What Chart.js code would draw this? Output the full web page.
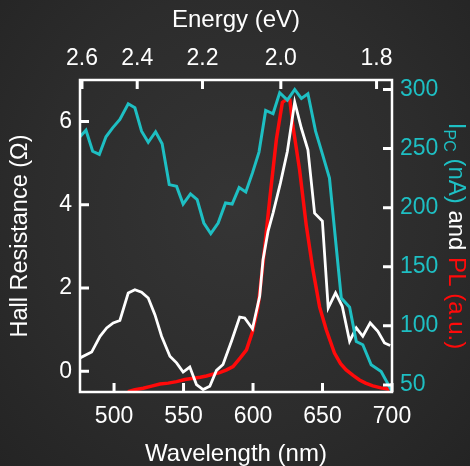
<!DOCTYPE html>
<html>
<head>
<meta charset="utf-8">
<script src="https://cdn.jsdelivr.net/npm/chart.js@4.4.1/dist/chart.umd.min.js"></script>
<style>
  html, body { margin: 0; padding: 0; }
  body {
    width: 470px; height: 466px; overflow: hidden;
    background: radial-gradient(ellipse at 50% 45%, #353535 0%, #2c2c2c 60%, #242424 100%);
  }
  #wrap { position: relative; width: 470px; height: 466px; }
</style>
</head>
<body>
<div id="wrap"><canvas id="chart"></canvas></div>
<script>
// Fotocorriente (cian, eje derecho)
const pcWavelength = [475.5, 479.8, 484.6, 489.4, 494.2, 499, 504.2, 510.2, 515, 519.8, 524.6, 529.9, 534.6, 539.7, 545, 549.7, 555, 559.8, 564.6, 569.6, 574.9, 580.2, 585, 590, 594.8, 599.6, 604.3, 609.1, 614.4, 619.2, 624.7, 630, 634.8, 639.5, 645, 649.9, 655, 663.5, 669.5, 674.3, 679, 685, 692.2, 700];
const pcCurrent = [260, 265.5, 247.7, 245, 260, 267.5, 274.6, 287.9, 284.5, 264.7, 255.3, 264.2, 254, 219.5, 218, 203, 211.6, 206.8, 187, 178, 187, 204, 203, 217, 213.3, 229.4, 247, 282.2, 279.4, 297.2, 291, 300, 292.4, 296.4, 264.7, 245.5, 225, 123.5, 115.8, 86.7, 84, 67, 61.3, 44.5];

// Resistencia Hall (blanco, eje izquierdo)
const hallWavelength = [475.5, 483.9, 489.9, 494.7, 499.4, 504.2, 510.2, 515, 519.8, 524.6, 529.4, 534.2, 540.2, 545, 549.7, 554.5, 559.3, 564.1, 568.9, 573.7, 578.4, 584.5, 590.4, 594, 599.6, 604.8, 607.2, 610.8, 614.4, 619.7, 624.7, 630, 634.8, 639.5, 644.3, 649.9, 654.1, 659.4, 664.2, 669.5, 674.3, 679, 684.3, 689.8, 694.6, 698.7];
const hallResistance = [0.32, 0.46, 0.84, 1.04, 1.16, 1.22, 1.88, 1.96, 1.9, 1.76, 1.36, 0.84, 0.36, 0.2, -0.02, 0.1, -0.32, -0.44, -0.36, 0.02, 0.16, 0.72, 1.3, 1.28, 1.02, 1.8, 2.68, 3.36, 3.8, 4.52, 5.28, 6.47, 5.84, 5.32, 3.8, 3.61, 1.52, 1.88, 1.56, 0.72, 1.04, 0.84, 1.16, 0.96, 0.68, 0.62];

// Fotoluminiscencia (rojo, u.a. sobre el eje derecho)
const plWavelength = [510, 515, 521, 527, 533, 539, 545, 551, 557, 562, 566.5, 571, 576, 581, 585.6, 590.8, 595.3, 599.6, 603.6, 607.2, 612, 616.8, 621.1, 624, 626.5, 628.7, 633.5, 638.3, 643.1, 647.9, 652.7, 658.6, 663, 667, 672, 676.6, 681, 686.2, 692, 698.2];
const plIntensity = [44.3, 46, 47.2, 49, 50.8, 51.5, 52.8, 54.5, 55.6, 56.5, 57.6, 59, 60.4, 62.7, 65.5, 72.9, 79.7, 95, 116, 153, 207, 257.6, 289, 291.5, 291, 269, 232, 185, 147.5, 116, 96.6, 76.9, 68, 62.7, 58, 54.2, 51.5, 49.2, 47.5, 46.4];

// Etiquetas de ejes
const wavelengthTicks = [500, 550, 600, 650, 700];
const energyTicks = [2.6, 2.4, 2.2, 2.0, 1.8];
const hallTicks = [0, 2, 4, 6];
const pcTicks = [50, 100, 150, 200, 250, 300];

const CYAN = '#1ebfc3';
const RED = '#ff0a0a';
const WHITE = '#ffffff';
const FONT = '"Liberation Sans", Arial, sans-serif';

function pairs(xs, ys) {
	return xs.map((x, i) => ({ x: x, y: ys[i] }));
}

// Marcas hacia dentro en los cuatro lados
const inwardTicks = {
	id: 'inwardTicks',
	afterDatasetsDraw(chart) {
		const ctx = chart.ctx;
		const a = chart.chartArea;
		const len = 9;
		const s = chart.scales;
		ctx.save();
		ctx.strokeStyle = WHITE;
		ctx.lineWidth = 3;
		ctx.beginPath();
		s.x.ticks.forEach(t => {
			const p = s.x.getPixelForValue(t.value);
			ctx.moveTo(p, a.bottom); ctx.lineTo(p, a.bottom - len);
		});
		s.x2.ticks.forEach(t => {
			const p = s.x2.getPixelForValue(t.value);
			ctx.moveTo(p, a.top); ctx.lineTo(p, a.top + len);
		});
		s.y.ticks.forEach(t => {
			const p = s.y.getPixelForValue(t.value);
			ctx.moveTo(a.left, p); ctx.lineTo(a.left + len, p);
		});
		s.y1.ticks.forEach(t => {
			const p = s.y1.getPixelForValue(t.value);
			ctx.moveTo(a.right, p); ctx.lineTo(a.right - len, p);
		});
		ctx.stroke();
		ctx.lineWidth = 2.5;
		ctx.strokeRect(a.left, a.top, a.right - a.left, a.bottom - a.top);
		ctx.restore();
	}
};

// Títulos de ejes (el derecho lleva varios colores y subíndice)
const axisTitles = {
	id: 'axisTitles',
	afterDraw(chart) {
		const ctx = chart.ctx;
		const a = chart.chartArea;
		const cx = (a.left + a.right) / 2;
		const cy = (a.top + a.bottom) / 2;
		ctx.save();
		ctx.fillStyle = WHITE;
		ctx.textAlign = 'center';
		ctx.textBaseline = 'alphabetic';
		ctx.font = '24px ' + FONT;
		ctx.fillText('Wavelength (nm)', cx, 461);
		ctx.fillText('Energy (eV)', cx, 27);

		ctx.save();
		ctx.translate(27, cy);
		ctx.rotate(-Math.PI / 2);
		ctx.font = '23.5px ' + FONT;
		ctx.fillText('Hall Resistance (\u03A9)', 0, 0);
		ctx.restore();

		const parts = [
			{ t: 'I', c: CYAN, size: 24, dy: 0 },
			{ t: 'PC', c: CYAN, size: 16, dy: 5 },
			{ t: ' (nA)', c: CYAN, size: 24, dy: 0 },
			{ t: ' and ', c: WHITE, size: 24, dy: 0 },
			{ t: 'PL (a.u.)', c: RED, size: 24, dy: 0 }
		];
		let total = 0;
		parts.forEach(p => {
			ctx.font = p.size + 'px ' + FONT;
			p.w = ctx.measureText(p.t).width;
			total += p.w;
		});
		ctx.translate(449, cy);
		ctx.rotate(Math.PI / 2);
		ctx.textAlign = 'left';
		let u = -total / 2;
		parts.forEach(p => {
			ctx.font = p.size + 'px ' + FONT;
			ctx.fillStyle = p.c;
			ctx.fillText(p.t, u, p.dy);
			u += p.w;
		});
		ctx.restore();
	}
};

function fixTicks(values) {
	return function(scale) {
		scale.ticks = values.map(v => ({ value: v }));
	};
}

const tickFont = { family: FONT, size: 23 };

new Chart(document.getElementById('chart'), {
	type: 'line',
	data: {
		datasets: [
			{
				label: 'IPC',
				data: pairs(pcWavelength, pcCurrent),
				yAxisID: 'y1',
				borderColor: CYAN,
				borderWidth: 3,
				pointRadius: 0,
				tension: 0
			},
			{
				label: 'Hall',
				data: pairs(hallWavelength, hallResistance),
				yAxisID: 'y',
				borderColor: WHITE,
				borderWidth: 2.8,
				pointRadius: 0,
				tension: 0
			},
			{
				label: 'PL',
				data: pairs(plWavelength, plIntensity),
				yAxisID: 'y1',
				borderColor: RED,
				borderWidth: 3.5,
				pointRadius: 0,
				tension: 0
			}
		]
	},
	options: {
		responsive: true,
		maintainAspectRatio: false,
		animation: false,
		layout: { padding: 0 },
		plugins: {
			legend: { display: false },
			tooltip: { enabled: false }
		},
		scales: {
			x: {
				type: 'linear',
				position: 'bottom',
				min: 475.5,
				max: 700,
				afterBuildTicks: fixTicks(wavelengthTicks),
				afterFit: function(scale) { scale.height = 74; },
				grid: { display: false, drawTicks: false },
				border: { display: false },
				ticks: { color: WHITE, font: tickFont, padding: 11, maxRotation: 0 }
			},
			x2: {
				type: 'linear',
				position: 'top',
				min: 475.5,
				max: 700,
				afterBuildTicks: fixTicks(energyTicks.map(e => 1240 / e)),
				afterFit: function(scale) { scale.height = 80; },
				grid: { display: false, drawTicks: false },
				border: { display: false },
				ticks: {
					color: WHITE, font: tickFont, padding: 8, maxRotation: 0,
					callback: function(value) { return (1240 / value).toFixed(1); }
				}
			},
			y: {
				type: 'linear',
				position: 'left',
				min: -0.5,
				max: 7,
				afterBuildTicks: fixTicks(hallTicks),
				afterFit: function(scale) { scale.width = 80; },
				grid: { display: false, drawTicks: false },
				border: { display: false },
				ticks: { color: WHITE, font: tickFont, padding: 8 }
			},
			y1: {
				type: 'linear',
				position: 'right',
				min: 44,
				max: 308,
				afterBuildTicks: fixTicks(pcTicks),
				afterFit: function(scale) { scale.width = 78; },
				grid: { display: false, drawTicks: false },
				border: { display: false },
				ticks: { color: CYAN, font: tickFont, padding: 8 }
			}
		}
	},
	plugins: [inwardTicks, axisTitles]
});
</script>
</body>
</html>
